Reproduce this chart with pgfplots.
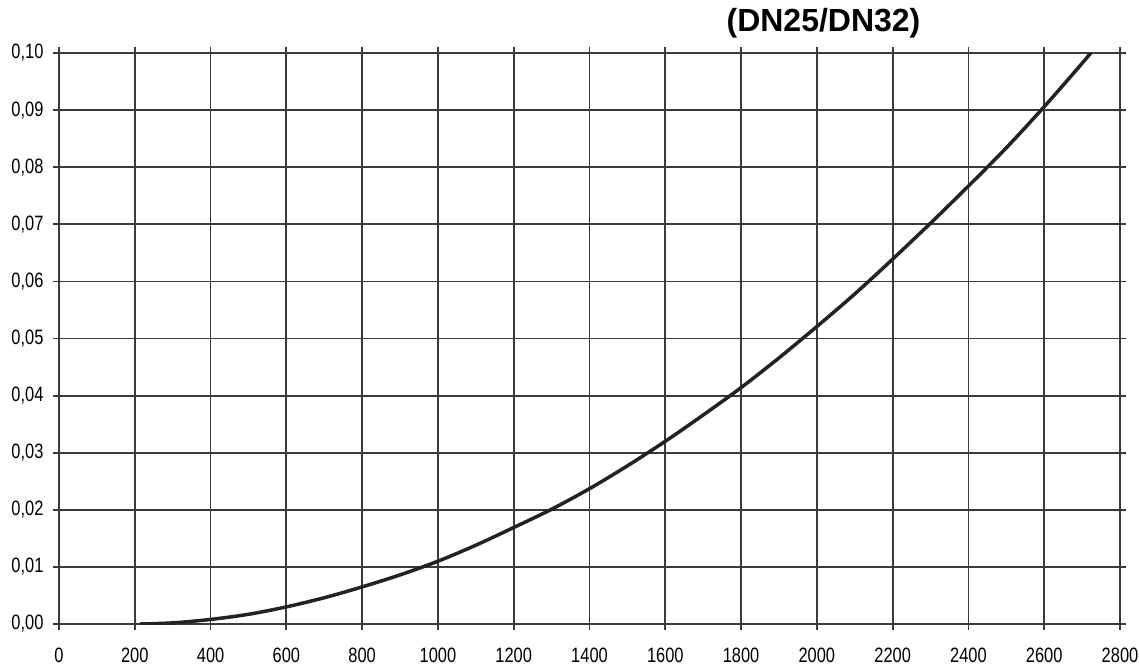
\documentclass[border=0pt]{standalone}
\usepackage{pgfplots}
\pgfplotsset{compat=1.18}
\usepackage{fontspec}
\setmainfont{Liberation Sans}
\newfontfamily\tickfont{Liberation Sans}[FakeStretch=0.79]
\definecolor{gridc}{HTML}{3A3A3A}
\definecolor{curvec}{HTML}{222222}
\begin{document}
\begin{tikzpicture}
\begin{axis}[
  name=main,
  scale only axis,
  width=530.5pt, height=285.5pt,
  xmin=0, xmax=2800, ymin=0, ymax=0.10,
  xtick={0,200,...,2800},
  ytick={0,0.01,...,0.1001},
  grid=major,
  major grid style={draw=gridc, line width=0.9pt},
  axis line style={draw=gridc, line width=0.9pt},
  every tick/.style={draw=gridc, line width=0.9pt},
  tick align=outside,
  major tick length=3pt,
  /pgf/number format/assume math mode=true,
  yticklabel={\pgfmathprintnumber[fixed, fixed zerofill, precision=2, use comma]{\tick}},
  xticklabel={\pgfmathprintnumber[fixed, precision=0, 1000 sep={}]{\tick}},
  scaled y ticks=false,
  scaled x ticks=false,
  tick label style={font=\tickfont\fontsize{10.4}{12}\selectfont},
  xticklabel style={inner sep=0pt, yshift=-9pt},
  yticklabel style={xshift=-1.25pt},
  clip=true,
]
\addplot[curvec, line width=1.75pt, smooth] coordinates {
(214,0) (300,0.0002) (400,0.0008) (500,0.0017) (600,0.0030) (700,0.0046)
(800,0.0065) (900,0.0086) (1000,0.0110) (1100,0.0138) (1200,0.0169)
(1300,0.0201) (1400,0.0237) (1500,0.0277) (1600,0.0320) (1700,0.0366)
(1800,0.0414) (1900,0.0466) (2000,0.0521) (2100,0.0578) (2200,0.0639)
(2300,0.0702) (2400,0.0767) (2500,0.0834) (2600,0.0906) (2700,0.0982)
(2750,0.1022)
};
\end{axis}
\node[font=\bfseries\fontsize{16}{19}\selectfont, anchor=center, inner sep=0pt] at ([xshift=382.25pt, yshift=15pt]main.north west) {(DN25/DN32)};
\path ([xshift=-29.5pt, yshift=-21pt]main.south west) rectangle ([xshift=9.5pt, yshift=26.5pt]main.north east);
\end{tikzpicture}
\end{document}
